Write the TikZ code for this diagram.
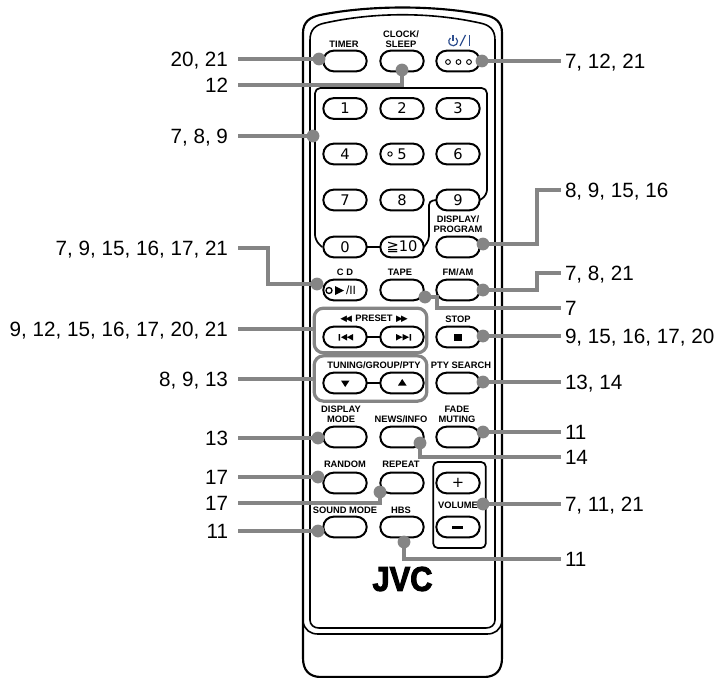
\documentclass[tikz,border=0pt]{standalone}
\usepackage{fontspec}
\setmainfont{Liberation Sans}
\newfontfamily\dvsym{DejaVu Sans}
\newfontfamily\jvcfont[FakeBold=3]{Liberation Sans Bold}
\definecolor{grayc}{HTML}{858585}
\definecolor{powerc}{HTML}{2F4F8F}
\tikzset{
  x=0.75pt,y=-0.75pt,
  body/.style={line width=1.6pt,black},
  bodyin/.style={line width=1.2pt,black},
  tie/.style={line width=1.3pt,black},
  btn/.style={draw=black,line width=1.5pt,fill=white,rectangle,rounded corners=7.7pt,minimum width=32.5pt,minimum height=15.5pt,inner sep=0pt,font=\dvsym\fontsize{11}{12}\selectfont},
  captxt/.style={inner sep=0pt,align=center,font=\bfseries\fontsize{7}{7.6}\selectfont},
  grp/.style={draw=grayc,line width=2.4pt,fill=white,rectangle,rounded corners=7pt,inner sep=0pt},
  conn/.style={draw=grayc,line width=2.7pt},
  dot/.style={circle,fill=grayc,minimum size=9.6pt,inner sep=0pt},
  refl/.style={anchor=east,inner xsep=7.5pt,inner ysep=0pt,outer sep=0pt,text height=11pt,text depth=0pt,font=\fontsize{15.5}{16}\selectfont},
  refr/.style={anchor=west,inner xsep=3pt,inner ysep=0pt,outer sep=0pt,text height=11pt,text depth=0pt,font=\fontsize{15.5}{16}\selectfont},
  icon/.style={fill=black,draw=none},
}
\begin{document}
\begin{tikzpicture}
\useasboundingbox (0,0) rectangle (722,678);
% body of the remote
\draw[body] (303,625) -- (303,33) .. controls (303,22) and (310,17) .. (320,15) .. controls (370,5) and (435,5) .. (485,15) .. controls (495,17) and (502,22) .. (502,33) -- (502,658) .. controls (502,670) and (496,677) .. (484,677) -- (321,677) .. controls (309,677) and (303,670) .. (303,658) -- cycle;
\draw[bodyin] (310,620) -- (310,40) .. controls (310,30) and (315,25) .. (325,23) .. controls (375,12) and (430,12) .. (480,23) .. controls (490,25) and (495,30) .. (495,40) -- (495,620) .. controls (495,625) and (491,628) .. (486,628) -- (319,628) .. controls (314,628) and (310,625) .. (310,620) -- cycle;
\draw[bodyin] (303,622) .. controls (305,630) and (310,634) .. (318,634) -- (487,634) .. controls (495,634) and (500,630) .. (502,622);
% button group outline
\draw[tie,rounded corners=4pt] (322,247) -- (315,240) -- (315,88) -- (487,88) -- (487,195) -- (480,200);
\draw[tie,rounded corners=3pt] (437,200) -- (429,201) -- (429,240) -- (424,247);
\draw[tie] (345,247) -- (402,247);
% preset / tuning groups
\node[grp,minimum width=84.5pt,minimum height=33.5pt] (gpreset) at (370.5,330.5) {};
\node[grp,minimum width=84.5pt,minimum height=34pt] (gtuning) at (370.5,378.5) {};
\draw[tie] (345,337) -- (402,337);
\draw[tie] (345,383) -- (402,383);
% volume box
\node[draw=black,line width=1.3pt,rectangle,rounded corners=3.5pt,minimum width=39.5pt,minimum height=64.5pt,inner sep=0pt] (volbox) at (459.5,505) {};
% buttons
\node[btn] (bTimer) at (345,61) {};
\node[btn] (bClock) at (402,61) {};
\node[btn] (bPower) at (458,61) {};
\node[btn] (b1) at (345,108.5) {1};
\node[btn] (b2) at (402,108.5) {2};
\node[btn] (b3) at (458,108.5) {3};
\node[btn] (b4) at (345,154) {4};
\node[btn] (b5) at (402,154) {5};
\node[btn] (b6) at (458,154) {6};
\node[btn] (b7) at (345,200) {7};
\node[btn] (b8) at (402,200) {8};
\node[btn] (b9) at (458,200) {9};
\node[btn] (b0) at (345,247) {0};
\node[btn] (b10) at (402,247) {≧10};
\node[btn] (bDisp) at (458,247) {};
\node[btn] (bCD) at (345,290) {};
\node[btn] (bTape) at (402,290) {};
\node[btn] (bFM) at (458,290) {};
\node[btn] (bPrev) at (345,337) {};
\node[btn] (bNext) at (402,337) {};
\node[btn] (bStop) at (458,337) {};
\node[btn] (bDown) at (345,383) {};
\node[btn] (bUp) at (402,383) {};
\node[btn] (bPty) at (458,383) {};
\node[btn] (bMode) at (345,437) {};
\node[btn] (bNews) at (402,437) {};
\node[btn] (bFade) at (458,437) {};
\node[btn] (bRand) at (345,483) {};
\node[btn] (bRep) at (402,483) {};
\node[btn] (bPlus) at (458,483) {+};
\node[btn] (bSound) at (345,527) {};
\node[btn] (bHbs) at (402,527) {};
\node[btn] (bMinus) at (458,527) {};
% button glyphs
\draw[line width=0.7pt] (448,62) circle (2.4) (458.5,62) circle (2.4) (469,62) circle (2.4);
\draw[line width=0.7pt] (390,154) circle (2.2);
\fill[icon] (453.5,333.5) rectangle (461.5,341);
\fill[icon] (452,526) rectangle (463,528.5);
% CD button
\draw[line width=1pt] (329,290.5) circle (3);
\fill[icon] (335,286) -- (344,290.5) -- (335,295) -- cycle;
\node[inner sep=0pt,font=\fontsize{9}{9}\selectfont] (cdtxt) at (351,290.5) {/II};
% prev / next
\fill[icon] (338.5,334) rectangle (340,340.5) (347,334) -- (341,337.2) -- (347,340.5) -- cycle (353,334) -- (347,337.2) -- (353,340.5) -- cycle;
\fill[icon] (409.5,334) rectangle (411,340.5) (396,334) -- (402.5,337.2) -- (396,340.5) -- cycle (402.5,334) -- (409,337.2) -- (402.5,340.5) -- cycle;
\fill[icon] (341,380.5) -- (349.5,380.5) -- (345.2,387) -- cycle;
\fill[icon] (398,385.5) -- (406.5,385.5) -- (402.2,379) -- cycle;
% captions
\node[captxt] (tTimer) at (344,44.5) {TIMER};
\node[captxt] (tClock) at (401,39) {CLOCK/\\SLEEP};
\draw[powerc,line width=0.9pt] (456,38) arc[start angle=310,end angle=590,radius=4.4];
\draw[powerc,line width=0.9pt] (453,35) -- (453,41);
\draw[powerc,line width=1pt] (460,46) -- (465.5,35);
\draw[powerc,line width=1.2pt] (469.5,35) -- (469.5,46);
\node[captxt] (tDisp) at (458,224) {DISPLAY/\\PROGRAM};
\node[captxt] (tCD) at (345,272) {C D};
\node[captxt] (tTape) at (400,272) {TAPE};
\node[captxt] (tFM) at (458,272) {FM/AM};
\node[captxt] (tPreset) at (374,319) {{\dvsym\fontsize{6.5}{7}\selectfont ◀\kern-1.2pt◀}\hspace{2.5pt}PRESET\hspace{2.5pt}{\dvsym\fontsize{6.5}{7}\selectfont ▶\kern-1.2pt▶}};
\node[captxt] (tStop) at (458,319) {STOP};
\node[captxt] (tTuning) at (374,365) {TUNING/GROUP/PTY};
\node[captxt] (tPty) at (461,365) {PTY SEARCH};
\node[captxt] (tMode) at (341,414) {DISPLAY\\MODE};
\node[captxt] (tNews) at (401,419) {NEWS/INFO};
\node[captxt] (tFade) at (457,414) {FADE\\MUTING};
\node[captxt] (tRand) at (345,464) {RANDOM};
\node[captxt] (tRep) at (401,464) {REPEAT};
\node[captxt] (tVol) at (458,505) {VOLUME};
\node[captxt] (tSound) at (345,510) {SOUND MODE};
\node[captxt] (tHbs) at (401,510) {HBS};
\node[inner sep=0pt] (logo) at (402.5,579) {\resizebox{45pt}{18pt}{\jvcfont JVC}};
% reference labels, left
\node[refl] (l1) at (238,59) {20, 21};
\node[refl] (l2) at (238,85) {12};
\node[refl] (l3) at (238,136) {7, 8, 9};
\node[refl] (l4) at (238,248) {7, 9, 15, 16, 17, 21};
\node[refl] (l5) at (238,329) {9, 12, 15, 16, 17, 20, 21};
\node[refl] (l6) at (238,379) {8, 9, 13};
\node[refl] (l7) at (238,438) {13};
\node[refl] (l8) at (238,477) {17};
\node[refl] (l9) at (238,503) {17};
\node[refl] (l10) at (238,531) {11};
% reference labels, right
\node[refr] (r1) at (561,61) {7, 12, 21};
\node[refr] (r2) at (561,190) {8, 9, 15, 16};
\node[refr] (r3) at (561,273) {7, 8, 21};
\node[refr] (r4) at (561,308) {7};
\node[refr] (r5) at (561,336) {9, 15, 16, 17, 20};
\node[refr] (r6) at (561,382) {13, 14};
\node[refr] (r7) at (561,432) {11};
\node[refr] (r8) at (561,457) {14};
\node[refr] (r9) at (561,504) {7, 11, 21};
\node[refr] (r10) at (561,559) {11};
% dots
\node[dot] (dl1) at (319,59) {};
\node[dot] (dl2) at (402,70) {};
\node[dot] (dl3) at (313,136) {};
\node[dot] (dl4) at (317,284) {};
\node[dot] (dl7) at (318,438) {};
\node[dot] (dl8) at (318,477) {};
\node[dot] (dl9) at (380,492) {};
\node[dot] (dl10) at (318,531) {};
\node[dot] (dr1) at (482,61) {};
\node[dot] (dr2) at (483,244) {};
\node[dot] (dr3) at (483,290) {};
\node[dot] (dr4) at (425,297) {};
\node[dot] (dr5) at (483,336) {};
\node[dot] (dr6) at (483,382) {};
\node[dot] (dr7) at (483,432) {};
\node[dot] (dr8) at (420,443) {};
\node[dot] (dr9) at (483,504) {};
\node[dot] (dr10) at (404,542) {};
% connectors
\draw[conn] (l1.east) -- (dl1.center);
\draw[conn] (l2.east) -| (dl2.center);
\draw[conn] (l3.east) -- (dl3.center);
\draw[conn] (l4.east) -- ++(30,0) |- (dl4.center);
\draw[conn] (l5.east) -- (l5.east -| gpreset.west);
\draw[conn] (l6.east) -- (l6.east -| gtuning.west);
\draw[conn] (l7.east) -- (dl7.center);
\draw[conn] (l8.east) -- (dl8.center);
\draw[conn] (l9.east) -| (dl9.center);
\draw[conn] (l10.east) -- (dl10.center);
\draw[conn] (dr1.center) -- (r1.west);
\draw[conn] (dr2.center) -- ++(54,0) |- (r2.west);
\draw[conn] (dr3.center) -- ++(54,0) |- (r3.west);
\draw[conn] (dr4.center) -- ++(12,0) |- (r4.west);
\draw[conn] (dr5.center) -- (r5.west);
\draw[conn] (dr6.center) -- (r6.west);
\draw[conn] (dr7.center) -- (r7.west);
\draw[conn] (dr8.center) |- (r8.west);
\draw[conn] (dr9.center) -- (r9.west);
\draw[conn] (dr10.center) |- (r10.west);
\end{tikzpicture}
\end{document}
